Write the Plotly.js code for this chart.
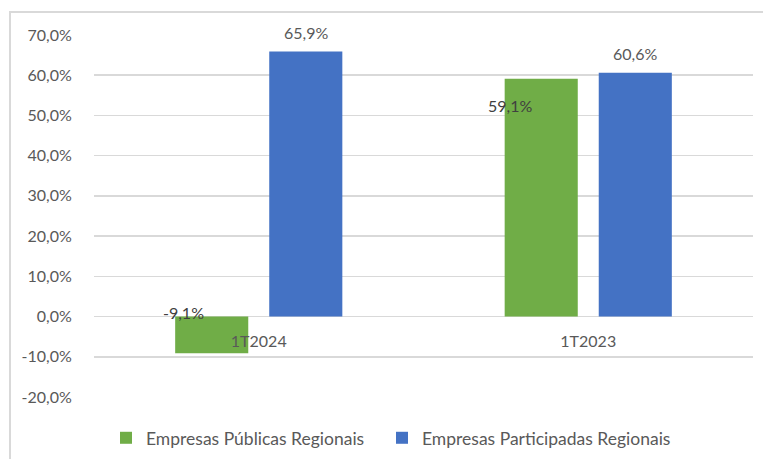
<!DOCTYPE html>
<html>
<head>
<meta charset="utf-8">
<script src="https://cdn.plot.ly/plotly-3.0.1.min.js"></script>
<style>
  html, body { margin: 0; padding: 0; background: #fff; }
  #wrap { position: relative; width: 763px; height: 459px; overflow: hidden; }
  #chart { position: absolute; left: 0; top: 0; width: 763px; height: 459px; }
  #frame { position: absolute; left: 9px; top: 11px; width: 800px; height: 500px;
           border-left: 2px solid #d9d9d9; border-top: 2px solid #d9d9d9; pointer-events: none; }
</style>
</head>
<body>
<div id="wrap"><div id="chart"></div><div id="frame"></div></div>
<script>
const categories = ['1T2024', '1T2023'];
const seriesNames = ['Empresas Públicas Regionais', 'Empresas Participadas Regionais'];
const publicas = [-9.1, 59.1];
const participadas = [65.9, 60.6];
const yTickVals = [-20, -10, 0, 10, 20, 30, 40, 50, 60, 70];
const yTickText = ['-20,0%', '-10,0%', '0,0%', '10,0%', '20,0%', '30,0%', '40,0%', '50,0%', '60,0%', '70,0%'];

const fmt = v => (v < 0 ? '-' : '') + Math.abs(v).toFixed(1).replace('.', ',') + '%';
const FONT = 'Lato, "Open Sans", sans-serif';
const GREY = '#595959';

const traces = [
  { type: 'bar', name: seriesNames[0], x: categories, y: publicas, legend: 'legend',
    marker: { color: '#70AD47' }, hoverinfo: 'none' },
  { type: 'bar', name: seriesNames[1], x: categories, y: participadas, legend: 'legend2',
    marker: { color: '#4472C4' }, hoverinfo: 'none' }
];

// label placement (pixel offsets from each bar, mimicking the original)
const greenShift = [ {dx: -75, dy: 41}, {dx: -78, dy: -27} ];
const annotations = [];
categories.forEach((c, i) => {
  annotations.push({ x: c, y: participadas[i], text: fmt(participadas[i]), showarrow: false,
    xshift: 47, yshift: 19, yanchor: 'middle', font: { family: FONT, size: 16, color: GREY } });
  annotations.push({ x: c, y: publicas[i], text: fmt(publicas[i]), showarrow: false,
    xshift: greenShift[i].dx, yshift: greenShift[i].dy, yanchor: 'middle',
    font: { family: FONT, size: 16, color: '#404040' } });
});

const plotL = 94, plotW = 659;
const px = p => (p - plotL) / plotW;
const legFont = { family: FONT, size: 17.5, color: GREY };

const layout = {
  width: 763, height: 459,
  margin: { l: 94, r: 10, t: 35, b: 62, autoexpand: false },
  paper_bgcolor: '#fff', plot_bgcolor: '#fff',
  barmode: 'group', bargap: 0.429, bargroupgap: 0.223,
  font: { family: FONT, size: 16, color: GREY },
  xaxis: { type: 'category', anchor: 'free', position: 20 / 90, showgrid: false,
    showline: false, zeroline: false, ticks: 'outside', ticklen: 10,
    tickcolor: 'rgba(0,0,0,0)', automargin: false,
    tickfont: { family: FONT, size: 16, color: GREY } },
  yaxis: { range: [-20, 70], tickvals: yTickVals, ticktext: yTickText,
    showgrid: true, gridcolor: '#d9d9d9', gridwidth: 1.5, zeroline: true,
    zerolinecolor: '#d9d9d9', zerolinewidth: 1.5, showline: false, automargin: false,
    ticks: 'outside', ticklen: 18, tickcolor: 'rgba(0,0,0,0)',
    tickfont: { family: FONT, size: 16, color: GREY } },
  legend: { orientation: 'h', x: px(106), xanchor: 'left', y: -0.113, yanchor: 'middle',
    font: legFont, itemwidth: 30 },
  legend2: { orientation: 'h', x: px(382), xanchor: 'left', y: -0.113, yanchor: 'middle',
    font: legFont, itemwidth: 30 },
  annotations: annotations,
  showlegend: true
};

Plotly.newPlot('chart', traces, layout, { displayModeBar: false, staticPlot: true });
</script>
</body>
</html>
